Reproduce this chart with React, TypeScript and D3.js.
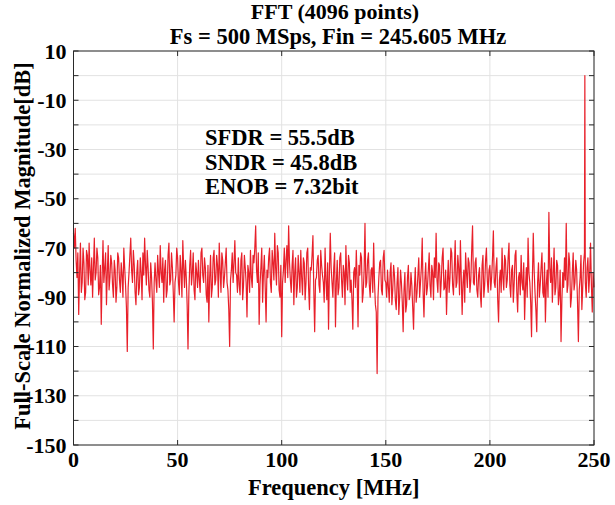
import React from "react";
import * as d3 from "d3";

const titleLines = ["FFT (4096 points)", "Fs = 500 MSps, Fin = 245.605 MHz"];
const xLabel = "Frequency [MHz]";
const yLabel = "Full-Scale Normalized Magnitude[dB]";
const annotations = ["SFDR = 55.5dB", "SNDR = 45.8dB", "ENOB = 7.32bit"];
const xTicks = [0, 50, 100, 150, 200, 250];
const yTicksLabeled = [10, -10, -30, -50, -70, -90, -110, -130, -150];
const yGrid = [10, 0, -10, -20, -30, -40, -50, -60, -70, -80, -90, -100, -110, -120, -130, -140, -150];
const freqMax = 250;
const toneFreq = 245.605;
const toneDb = 0;

// noise floor magnitudes (dB), uniformly spaced bins from 0 to 250 MHz
const noiseDb = [
  -64,-70,-62,-75,-82,-72,-97,-80,-68,-88,-84,-70,-76,-91,-88,-71,-73,-85,-68,-79,
  -85,-74,-90,-78,-66,-83,-80,-70,-74,-89,-86,-77,-101,-82,-67,-84,-78,-72,-93,-80,
  -69,-87,-82,-73,-76,-85,-90,-75,-79,-92,-86,-72,-74,-83,-88,-76,-81,-90,-70,-78,
  -85,-94,-112,-86,-80,-73,-66,-79,-84,-71,-77,-88,-93,-80,-75,-89,-86,-74,-80,-91,
  -72,-81,-66,-77,-85,-71,-78,-87,-90,-76,-82,-92,-111,-84,-76,-83,-88,-73,-80,-86,
  -69,-80,-84,-74,-92,-79,-75,-90,-87,-73,-68,-85,-83,-72,-78,-88,-100,-84,-81,-70,
  -74,-84,-89,-73,-79,-90,-67,-78,-86,-75,-82,-93,-111,-88,-77,-71,-85,-80,-72,-87,
  -91,-76,-80,-86,-75,-83,-88,-72,-70,-81,-84,-74,-78,-89,-92,-77,-100,-82,-73,-90,
  -86,-74,-71,-85,-83,-73,-77,-90,-68,-79,-88,-72,-75,-86,-82,-76,-70,-84,-87,-95,
  -110,-83,-79,-72,-84,-76,-67,-80,-81,-88,-74,-85,-89,-75,-72,-91,-85,-73,-78,-84,
  -98,-77,-80,-88,-71,-82,-86,-73,-76,-70,-61,-79,-84,-72,-101,-85,-78,-70,-92,-80,
  -73,-86,-100,-79,-82,-74,-70,-84,-88,-71,-76,-83,-64,-78,-85,-69,-72,-87,-90,-77,
  -106,-84,-79,-70,-84,-75,-69,-82,-61,-76,-83,-88,-77,-71,-93,-80,-74,-90,-86,-73,
  -80,-88,-71,-82,-89,-74,-76,-91,-84,-72,-70,-86,-95,-78,-79,-73,-65,-87,-104,-83,
  -82,-75,-73,-85,-88,-71,-77,-81,-84,-92,-70,-83,-91,-76,-103,-80,-64,-78,-84,-90,
  -78,-72,-102,-84,-75,-89,-86,-74,-72,-83,-90,-77,-80,-93,-69,-82,-87,-73,-76,-88,
  -83,-91,-103,-80,-78,-86,-71,-83,-102,-77,-81,-72,-74,-92,-88,-79,-60,-86,-84,-75,
  -72,-85,-90,-79,-78,-88,-68,-84,-93,-96,-121,-90,-82,-76,-75,-87,-89,-74,-71,-83,
  -84,-90,-79,-86,-92,-80,-76,-93,-87,-77,-81,-91,-95,-84,-78,-97,-90,-79,-84,-92,
  -104,-87,-80,-96,-93,-82,-77,-91,-89,-80,-85,-94,-103,-86,-78,-92,-88,-81,-74,-90,
  -84,-78,-66,-88,-98,-83,-76,-89,-86,-79,-72,-85,-90,-77,-80,-91,-74,-82,-64,-83,
  -88,-76,-77,-90,-83,-74,-70,-87,-86,-79,-97,-84,-75,-88,-82,-70,-72,-85,-89,-78,
  -67,-86,-84,-73,-78,-89,-67,-82,-97,-84,-79,-92,-72,-80,-86,-74,-76,-88,-83,-71,
  -61,-84,-85,-76,-74,-87,-90,-81,-78,-89,-94,-77,-73,-90,-85,-75,-70,-83,-88,-79,
  -77,-87,-82,-74,-63,-84,-86,-78,-74,-91,-100,-83,-79,-88,-70,-82,-87,-73,-75,-86,
  -83,-74,-68,-85,-90,-79,-77,-92,-84,-73,-71,-88,-96,-82,-80,-89,-73,-84,-87,-76,
  -99,-86,-78,-90,-66,-80,-84,-92,-106,-82,-64,-79,-88,-95,-104,-84,-76,-90,-85,-78,
  -72,-88,-90,-76,-100,-85,-79,-90,-55.5,-78,-84,-74,-92,-81,-70,-89,-86,-75,-77,-93,
  -89,-79,-108,-91,-80,-86,-74,-83,-60,-88,-85,-72,-76,-94,-90,-80,-72,-87,-84,-75,
  -79,-92,-108,-87,-82,-73,-95,-86,-76,-72,-84,-90,-78,-74,-88,-81,-68,-85,-96,-80,
  -86,
];

const W = 615;
const H = 505;
const left = 73.5;
const right = 594;
const top = 51;
const bottom = 445;
const FONT = "'Liberation Serif', 'Times New Roman', serif";
const AXIS = "#2a2a2a";
const GRID = "#e2e2e2";
const RED = "#e8202a";

export default function App() {
  const x = d3.scaleLinear().domain([0, freqMax]).range([left, right]);
  const y = d3.scaleLinear().domain([-150, 10]).range([bottom, top]);

  const step = freqMax / (noiseDb.length - 1);
  const pts: [number, number][] = noiseDb.map((v, i) => [i * step, v]);
  pts.push([toneFreq, toneDb]);
  pts.sort((a, b) => a[0] - b[0]);

  const line = d3
    .line<[number, number]>()
    .x((d) => x(d[0]))
    .y((d) => y(d[1]));

  const tickLen = 5;

  return (
    <svg
      width={W}
      height={H}
      style={{ position: "absolute", left: 0, top: 0, background: "#fff" }}
      fontFamily={FONT}
      fontWeight="bold"
    >
      <rect x={0} y={0} width={W} height={H} fill="#fff" />
      {yGrid.map((v) => (
        <line key={"gy" + v} x1={left} x2={right} y1={y(v)} y2={y(v)} stroke={GRID} strokeWidth={1} />
      ))}
      {xTicks.map((v) => (
        <line key={"gx" + v} x1={x(v)} x2={x(v)} y1={top} y2={bottom} stroke={GRID} strokeWidth={1} />
      ))}
      <path d={line(pts) || ""} fill="none" stroke={RED} strokeWidth={1.2} strokeLinejoin="round" />
      <rect x={left} y={top} width={right - left} height={bottom - top} fill="none" stroke={AXIS} strokeWidth={1} />
      {yGrid.map((v) => (
        <g key={"ty" + v}>
          <line x1={left} x2={left + tickLen} y1={y(v)} y2={y(v)} stroke={AXIS} />
          <line x1={right} x2={right - tickLen} y1={y(v)} y2={y(v)} stroke={AXIS} />
        </g>
      ))}
      {xTicks.map((v) => (
        <g key={"tx" + v}>
          <line x1={x(v)} x2={x(v)} y1={bottom} y2={bottom - tickLen} stroke={AXIS} />
          <line x1={x(v)} x2={x(v)} y1={top} y2={top + tickLen} stroke={AXIS} />
        </g>
      ))}
      {yTicksLabeled.map((v) => (
        <text key={"ly" + v} x={left - 7} y={y(v)} dy="0.35em" textAnchor="end" fontSize={22} fill="#000">
          {v}
        </text>
      ))}
      {xTicks.map((v) => (
        <text key={"lx" + v} x={x(v)} y={bottom + 22} textAnchor="middle" fontSize={22} fill="#000">
          {v}
        </text>
      ))}
      <text x={(left + right) / 2} y={495} textAnchor="middle" fontSize={22.5} fill="#000">
        {xLabel}
      </text>
      <text
        transform={`translate(30, ${(top + bottom) / 2 - 2}) rotate(-90)`}
        textAnchor="middle"
        fontSize={22.5}
        fill="#000"
      >
        {yLabel}
      </text>
      <text x={335} y={19} textAnchor="middle" fontSize={22} fill="#000">
        {titleLines[0]}
      </text>
      <text x={338} y={44} textAnchor="middle" fontSize={22.5} fill="#000">
        {titleLines[1]}
      </text>
      {annotations.map((t, i) => (
        <text key={t} x={205} y={145 + i * 24.5} fontSize={22.5} fill="#000">
          {t}
        </text>
      ))}
    </svg>
  );
}
